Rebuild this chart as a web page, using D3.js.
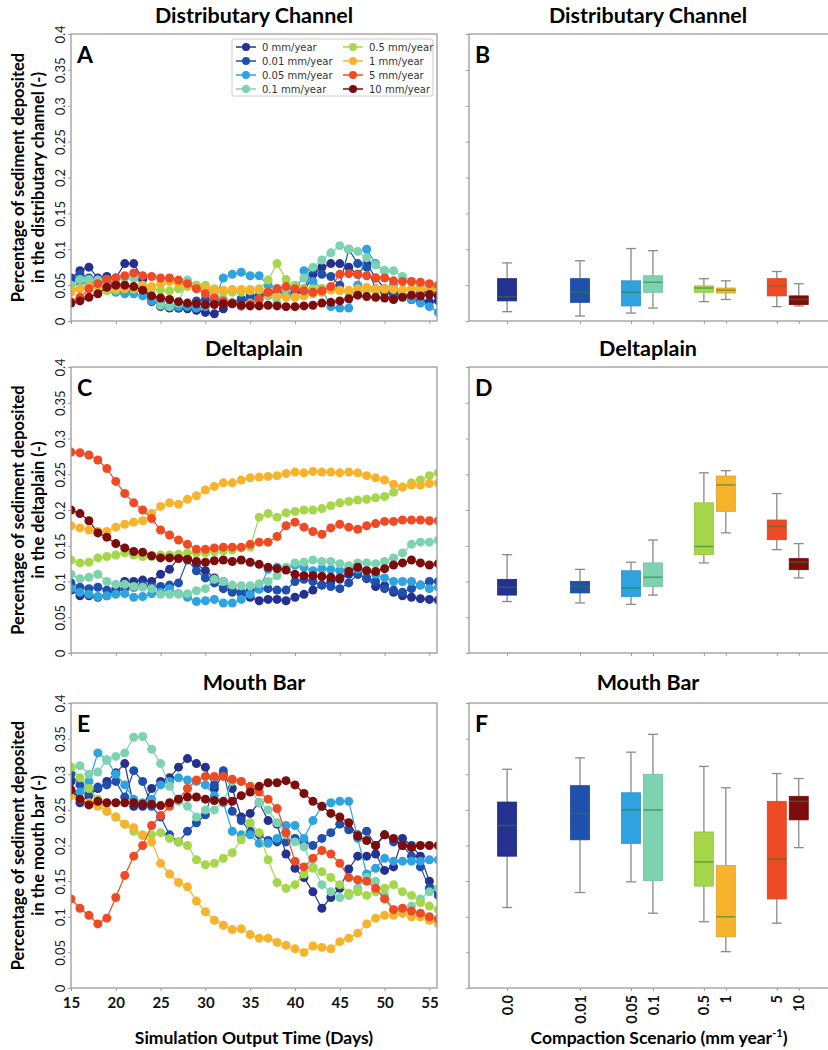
<!DOCTYPE html>
<html>
<head>
<meta charset="utf-8">
<script src="https://cdn.jsdelivr.net/npm/d3@7"></script>
<style>
  body { margin: 0; background: #fff; }
  svg { display: block; }
</style>
</head>
<body>
<div id="viz"></div>
<script>
/*#####################################################
#   Sediment deposition per compaction scenario       #
#   lines (left) and box plots (right)                #
#####################################################*/

// Globals / data
var days = [15,16,17,18,19,20,21,22,23,24,25,26,27,28,29,30,31,32,33,34,35,
            36,37,38,39,40,41,42,43,44,45,46,47,48,49,50,51,52,53,54,55,56];

var rates = [0, 0.01, 0.05, 0.1, 0.5, 1, 5, 10];
var rateLabels = ["0 mm/year","0.01 mm/year","0.05 mm/year","0.1 mm/year",
                  "0.5 mm/year","1 mm/year","5 mm/year","10 mm/year"];
var rateTicks = ["0.0","0.01","0.05","0.1","0.5","1","5","10"];
var colors = ["#25318f","#1f50ae","#2ea3e0","#7dd3b0","#a6d64a","#f8b32c","#ef4a24","#7d0c0c"];

var yTicks = [0, 0.05, 0.1, 0.15, 0.2, 0.25, 0.3, 0.35, 0.4];
var xTicks = [15, 20, 25, 30, 35, 40, 45, 50, 55];

var titles = ["Distributary Channel", "Deltaplain", "Mouth Bar"];
var yLabels2 = ["in the distributary channel (-)", "in the deltaplain (-)", "in the mouth bar (-)"];

// distributary channel, one row per rate
var channelValues = [
  [0.06,0.07,0.075,0.06,0.062,0.06,0.08,0.08,0.058,0.027,0.025,0.018,0.018,0.017,0.015,0.012,0.01,0.017,0.025,0.03,0.028,0.035,0.04,0.035,0.035,0.04,0.04,0.065,0.075,0.08,0.08,0.075,0.065,0.08,0.06,0.045,0.04,0.035,0.03,0.028,0.027,0.028],
  [0.058,0.065,0.06,0.058,0.055,0.052,0.04,0.042,0.045,0.03,0.02,0.02,0.018,0.022,0.028,0.03,0.028,0.025,0.025,0.03,0.035,0.035,0.04,0.04,0.045,0.045,0.045,0.072,0.065,0.062,0.05,0.1,0.08,0.075,0.045,0.04,0.035,0.035,0.03,0.04,0.045,0.035],
  [0.045,0.055,0.052,0.057,0.052,0.04,0.038,0.038,0.035,0.028,0.025,0.02,0.02,0.02,0.018,0.02,0.03,0.06,0.065,0.068,0.063,0.063,0.05,0.045,0.04,0.035,0.07,0.055,0.045,0.02,0.018,0.018,0.05,0.1,0.08,0.07,0.05,0.035,0.03,0.025,0.02,0.012],
  [0.05,0.058,0.058,0.057,0.058,0.057,0.06,0.06,0.05,0.035,0.022,0.02,0.025,0.057,0.05,0.045,0.04,0.03,0.025,0.02,0.025,0.03,0.035,0.025,0.045,0.05,0.06,0.075,0.085,0.095,0.105,0.1,0.097,0.088,0.078,0.07,0.07,0.062,0.055,0.05,0.045,0.04],
  [0.045,0.045,0.048,0.048,0.042,0.043,0.045,0.044,0.045,0.045,0.043,0.042,0.045,0.048,0.05,0.05,0.045,0.04,0.04,0.04,0.042,0.045,0.057,0.08,0.058,0.048,0.045,0.045,0.045,0.047,0.042,0.04,0.041,0.042,0.042,0.044,0.045,0.043,0.045,0.045,0.043,0.042],
  [0.04,0.045,0.048,0.05,0.048,0.046,0.045,0.047,0.05,0.048,0.052,0.055,0.052,0.05,0.046,0.045,0.043,0.043,0.044,0.044,0.044,0.043,0.038,0.035,0.033,0.033,0.035,0.038,0.04,0.043,0.043,0.043,0.045,0.047,0.045,0.045,0.044,0.043,0.044,0.044,0.045,0.045],
  [0.027,0.033,0.045,0.052,0.058,0.06,0.063,0.067,0.063,0.062,0.06,0.06,0.057,0.052,0.045,0.038,0.032,0.028,0.025,0.022,0.023,0.03,0.04,0.045,0.048,0.045,0.042,0.04,0.042,0.048,0.065,0.066,0.065,0.063,0.06,0.06,0.056,0.055,0.055,0.054,0.052,0.05],
  [0.025,0.028,0.033,0.038,0.047,0.05,0.05,0.048,0.043,0.035,0.032,0.03,0.027,0.025,0.024,0.023,0.023,0.024,0.024,0.022,0.021,0.021,0.022,0.021,0.02,0.02,0.021,0.022,0.025,0.026,0.028,0.031,0.036,0.034,0.033,0.032,0.03,0.033,0.036,0.035,0.037,0.036]
];

var deltaplainValues = [
  [0.088,0.08,0.08,0.078,0.08,0.09,0.1,0.1,0.102,0.1,0.11,0.117,0.133,0.132,0.125,0.115,0.105,0.1,0.088,0.083,0.078,0.073,0.075,0.075,0.073,0.078,0.082,0.088,0.095,0.1,0.103,0.11,0.11,0.104,0.093,0.094,0.085,0.08,0.078,0.076,0.075,0.074],
  [0.098,0.092,0.09,0.092,0.088,0.085,0.09,0.092,0.095,0.093,0.093,0.095,0.098,0.13,0.115,0.105,0.098,0.09,0.085,0.085,0.088,0.09,0.09,0.088,0.088,0.1,0.103,0.1,0.095,0.093,0.09,0.098,0.11,0.105,0.1,0.09,0.088,0.085,0.09,0.095,0.1,0.1],
  [0.09,0.085,0.082,0.079,0.08,0.082,0.083,0.078,0.079,0.083,0.085,0.09,0.083,0.078,0.072,0.073,0.075,0.07,0.07,0.075,0.082,0.089,0.117,0.12,0.118,0.123,0.12,0.115,0.118,0.117,0.115,0.118,0.117,0.115,0.11,0.105,0.1,0.1,0.1,0.095,0.09,0.092],
  [0.11,0.104,0.106,0.11,0.1,0.096,0.096,0.093,0.092,0.09,0.082,0.082,0.082,0.083,0.087,0.09,0.103,0.1,0.095,0.094,0.094,0.097,0.1,0.108,0.12,0.126,0.127,0.13,0.128,0.128,0.125,0.122,0.126,0.126,0.125,0.128,0.133,0.14,0.152,0.155,0.155,0.158],
  [0.13,0.126,0.127,0.133,0.135,0.137,0.14,0.137,0.135,0.135,0.137,0.137,0.138,0.14,0.14,0.14,0.142,0.143,0.144,0.147,0.148,0.19,0.195,0.19,0.196,0.198,0.2,0.2,0.202,0.206,0.21,0.212,0.214,0.215,0.217,0.219,0.225,0.232,0.238,0.242,0.248,0.252],
  [0.178,0.175,0.172,0.17,0.17,0.176,0.18,0.183,0.185,0.195,0.205,0.21,0.208,0.215,0.22,0.228,0.233,0.238,0.238,0.242,0.245,0.246,0.247,0.248,0.251,0.253,0.252,0.254,0.253,0.253,0.252,0.253,0.252,0.248,0.245,0.242,0.236,0.232,0.235,0.235,0.237,0.238],
  [0.281,0.28,0.277,0.27,0.258,0.24,0.223,0.21,0.2,0.188,0.172,0.165,0.158,0.152,0.145,0.145,0.147,0.148,0.148,0.148,0.152,0.155,0.155,0.163,0.178,0.183,0.176,0.17,0.166,0.175,0.18,0.176,0.173,0.178,0.181,0.184,0.184,0.186,0.186,0.186,0.185,0.185],
  [0.2,0.195,0.185,0.168,0.162,0.153,0.147,0.142,0.141,0.136,0.133,0.133,0.132,0.131,0.128,0.127,0.129,0.13,0.128,0.13,0.127,0.124,0.12,0.118,0.116,0.11,0.108,0.108,0.107,0.106,0.105,0.114,0.12,0.115,0.114,0.118,0.123,0.126,0.13,0.126,0.123,0.125]
];

var mouthbarValues = [
  [0.29,0.26,0.27,0.28,0.29,0.302,0.315,0.255,0.255,0.28,0.29,0.295,0.31,0.322,0.315,0.31,0.28,0.3,0.28,0.24,0.245,0.26,0.235,0.23,0.188,0.168,0.155,0.135,0.112,0.127,0.14,0.167,0.185,0.185,0.188,0.165,0.17,0.21,0.2,0.185,0.15,0.135],
  [0.3,0.285,0.273,0.282,0.285,0.29,0.268,0.305,0.29,0.255,0.24,0.215,0.205,0.22,0.232,0.243,0.285,0.305,0.248,0.235,0.22,0.215,0.207,0.205,0.205,0.21,0.205,0.2,0.21,0.218,0.23,0.222,0.215,0.22,0.2,0.215,0.205,0.2,0.185,0.17,0.14,0.13],
  [0.27,0.275,0.29,0.33,0.32,0.3,0.285,0.265,0.26,0.265,0.285,0.29,0.295,0.292,0.29,0.285,0.27,0.26,0.22,0.215,0.215,0.203,0.203,0.21,0.228,0.228,0.21,0.235,0.255,0.26,0.262,0.262,0.21,0.16,0.168,0.182,0.178,0.178,0.178,0.178,0.18,0.18],
  [0.31,0.312,0.3,0.303,0.32,0.325,0.33,0.352,0.353,0.335,0.315,0.283,0.262,0.255,0.24,0.25,0.25,0.262,0.29,0.29,0.28,0.26,0.25,0.232,0.215,0.205,0.198,0.17,0.145,0.135,0.127,0.13,0.14,0.155,0.15,0.13,0.11,0.105,0.115,0.125,0.135,0.14],
  [0.31,0.295,0.28,0.265,0.248,0.24,0.23,0.22,0.215,0.215,0.218,0.21,0.205,0.2,0.18,0.173,0.175,0.182,0.19,0.208,0.232,0.218,0.18,0.148,0.14,0.145,0.16,0.168,0.163,0.155,0.145,0.133,0.135,0.13,0.135,0.14,0.145,0.135,0.13,0.12,0.115,0.11],
  [0.27,0.265,0.26,0.255,0.248,0.24,0.23,0.225,0.214,0.205,0.175,0.16,0.148,0.142,0.122,0.107,0.095,0.088,0.082,0.083,0.075,0.07,0.07,0.064,0.06,0.055,0.05,0.059,0.057,0.055,0.065,0.07,0.077,0.09,0.098,0.102,0.102,0.105,0.1,0.1,0.095,0.09],
  [0.125,0.112,0.102,0.09,0.098,0.127,0.158,0.185,0.2,0.228,0.242,0.255,0.265,0.28,0.292,0.297,0.297,0.297,0.293,0.29,0.283,0.275,0.265,0.252,0.218,0.178,0.17,0.182,0.193,0.188,0.175,0.155,0.152,0.15,0.14,0.125,0.11,0.112,0.108,0.105,0.1,0.097],
  [0.278,0.265,0.257,0.262,0.26,0.26,0.26,0.26,0.258,0.258,0.256,0.26,0.265,0.268,0.268,0.265,0.263,0.262,0.262,0.27,0.275,0.283,0.288,0.288,0.291,0.285,0.273,0.262,0.255,0.245,0.24,0.232,0.213,0.207,0.2,0.215,0.21,0.2,0.197,0.2,0.2,0.2]
];

// box stats per rate: [min, q1, median, q3, max]
var channelBoxes = [
  [0.013,0.028,0.034,0.059,0.081],
  [0.007,0.026,0.040,0.059,0.084],
  [0.011,0.021,0.040,0.056,0.101],
  [0.018,0.040,0.054,0.063,0.098],
  [0.027,0.040,0.046,0.049,0.059],
  [0.030,0.039,0.043,0.046,0.056],
  [0.020,0.035,0.049,0.059,0.069],
  [0.021,0.023,0.030,0.035,0.052]
];
var deltaplainBoxes = [
  [0.072,0.081,0.092,0.103,0.1375],
  [0.070,0.084,0.093,0.100,0.117],
  [0.068,0.079,0.091,0.115,0.127],
  [0.081,0.093,0.106,0.126,0.158],
  [0.126,0.1375,0.149,0.210,0.252],
  [0.168,0.198,0.235,0.2475,0.255],
  [0.1445,0.1585,0.177,0.186,0.223],
  [0.105,0.1165,0.127,0.132,0.153]
];
var mouthbarBoxes = [
  [0.113,0.185,0.228,0.261,0.307],
  [0.134,0.208,0.245,0.284,0.323],
  [0.149,0.203,0.250,0.274,0.331],
  [0.105,0.151,0.250,0.300,0.356],
  [0.093,0.143,0.177,0.219,0.311],
  [0.051,0.072,0.100,0.172,0.281],
  [0.091,0.125,0.181,0.262,0.301],
  [0.197,0.236,0.262,0.269,0.294]
];

/*################
#     Layout     #
##################*/

const width = 828, height = 1050;
const leftX = [71, 437], rightX = [469, 829];
const rows = [ {top: 34, bottom: 321}, {top: 367, bottom: 653}, {top: 703, bottom: 988} ];
const titleY = [23, 356, 690];
const letters = [["A","B"],["C","D"],["E","F"]];

const lineData = [channelValues, deltaplainValues, mouthbarValues];
const boxData = [channelBoxes, deltaplainBoxes, mouthbarBoxes];

const sansBold = "Lato, 'Open Sans', sans-serif";
const axisGrey = "#9c9c9c";

var svg = d3.select("#viz").append("svg")
    .attr("width", width)
    .attr("height", height);

// shared x scales
var x = d3.scaleLinear().domain([15, 55.85]).range(leftX);
// box positions sit on a log axis, "0" is parked one decade below 0.01
var xb = d3.scaleLog().domain([0.0003, 25.2]).range([rightX[0], 828]);
function boxPos(r) { return xb(r === 0 ? 0.001 : r); }

rows.forEach(function(row, ri) {

    var y = d3.scaleLinear().domain([0, 0.4]).range([row.bottom, row.top]);

    // titles over each column
    svg.append("text")
        .attr("x", (leftX[0] + leftX[1]) / 2)
        .attr("y", titleY[ri])
        .attr("text-anchor", "middle")
        .attr("font-family", sansBold)
        .attr("font-weight", "bold")
        .attr("font-size", "21.5px")
        .text(titles[ri]);
    svg.append("text")
        .attr("x", 648)
        .attr("y", titleY[ri])
        .attr("text-anchor", "middle")
        .attr("font-family", sansBold)
        .attr("font-weight", "bold")
        .attr("font-size", "21.5px")
        .text(titles[ri]);

    // y label, two lines rotated
    var midY = (row.top + row.bottom) / 2;
    svg.append("text")
        .attr("transform", "translate(24," + midY + ") rotate(-90)")
        .attr("text-anchor", "middle")
        .attr("font-family", sansBold)
        .attr("font-weight", "bold")
        .attr("font-size", "16.5px")
        .text("Percentage of sediment deposited");
    svg.append("text")
        .attr("transform", "translate(44," + midY + ") rotate(-90)")
        .attr("text-anchor", "middle")
        .attr("font-family", sansBold)
        .attr("font-weight", "bold")
        .attr("font-size", "16.5px")
        .text(yLabels2[ri]);

    /*
        Left panel: lines with markers
    */
    var clipId = "clip" + ri;
    svg.append("clipPath").attr("id", clipId)
        .append("rect")
        .attr("x", leftX[0]).attr("y", row.top)
        .attr("width", leftX[1] - leftX[0]).attr("height", row.bottom - row.top);

    // y axis with rotated labels
    var yAxisL = svg.append("g")
        .attr("transform", "translate(" + leftX[0] + ",0)")
        .call(d3.axisLeft(y).tickValues(yTicks).tickSize(3).tickFormat(d3.format("~g")));
    yAxisL.select(".domain").remove();
    yAxisL.selectAll("line").attr("stroke", axisGrey);
    yAxisL.selectAll("text")
        .attr("x", null).attr("dy", null)
        .attr("text-anchor", "middle")
        .attr("transform", "translate(-6,0) rotate(-90)")
        .attr("font-family", sansBold)
        .attr("font-size", "13px")
        .attr("fill", "#1a1a1a");

    var xAxisL = svg.append("g")
        .attr("transform", "translate(0," + row.bottom + ")")
        .call(d3.axisBottom(x).tickValues(xTicks).tickSize(3));
    xAxisL.select(".domain").remove();
    xAxisL.selectAll("line").attr("stroke", axisGrey);
    if (ri === 2) {
        xAxisL.selectAll("text")
            .attr("y", 9)
            .attr("font-family", sansBold)
            .attr("font-weight", "bold")
            .attr("font-size", "15px")
            .attr("fill", "#111");
    } else {
        xAxisL.selectAll("text").remove();
    }

    var plotL = svg.append("g").attr("clip-path", "url(#" + clipId + ")");
    var line = d3.line()
        .x(function(d, i) { return x(days[i]); })
        .y(function(d) { return y(d); });

    lineData[ri].forEach(function(series, si) {
        var g = plotL.append("g");
        g.append("path")
            .datum(series)
            .attr("fill", "none")
            .attr("stroke", colors[si])
            .attr("stroke-width", 1.2)
            .attr("d", line);
        g.selectAll("circle")
            .data(series)
            .enter()
            .append("circle")
            .attr("cx", function(d, i) { return x(days[i]); })
            .attr("cy", function(d) { return y(d); })
            .attr("r", 4.5)
            .attr("fill", colors[si]);
    });

    svg.append("rect")
        .attr("x", leftX[0]).attr("y", row.top)
        .attr("width", leftX[1] - leftX[0]).attr("height", row.bottom - row.top)
        .attr("fill", "none")
        .attr("stroke", axisGrey)
        .attr("stroke-width", 1.3);

    svg.append("text")
        .attr("x", leftX[0] + 6)
        .attr("y", row.top + 29)
        .attr("font-family", sansBold)
        .attr("font-weight", "bold")
        .attr("font-size", "23px")
        .text(letters[ri][0]);

    /*
        Right panel: box plots
    */
    var yAxisR = svg.append("g")
        .attr("transform", "translate(" + rightX[0] + ",0)")
        .call(d3.axisLeft(y).tickValues(yTicks).tickSize(3).tickFormat(""));
    yAxisR.select(".domain").remove();
    yAxisR.selectAll("line").attr("stroke", axisGrey);

    var xAxisR = svg.append("g")
        .attr("transform", "translate(0," + row.bottom + ")")
        .call(d3.axisBottom(xb).tickValues(rates.map(function(r) { return r === 0 ? 0.001 : r; })).tickSize(3));
    xAxisR.select(".domain").remove();
    xAxisR.selectAll("line").attr("stroke", axisGrey);
    if (ri === 2) {
        xAxisR.selectAll("text")
            .text(function(d, i) { return rateTicks[i]; })
            .attr("y", null).attr("dy", "0.35em")
            .attr("text-anchor", "end")
            .attr("transform", "translate(0,7) rotate(-90)")
            .attr("font-family", sansBold)
            .attr("font-weight", "bold")
            .attr("font-size", "14.5px")
            .attr("fill", "#111");
    } else {
        xAxisR.selectAll("text").remove();
    }

    var boxW = 19, capW = 10;
    var boxes = svg.append("g").selectAll("g")
        .data(boxData[ri])
        .enter()
        .append("g")
        .attr("transform", function(d, i) { return "translate(" + boxPos(rates[i]) + ",0)"; });

    boxes.append("line")
        .attr("y1", function(d) { return y(d[0]); })
        .attr("y2", function(d) { return y(d[1]); })
        .attr("stroke", "#8a8a8a").attr("stroke-width", 1.3);
    boxes.append("line")
        .attr("y1", function(d) { return y(d[3]); })
        .attr("y2", function(d) { return y(d[4]); })
        .attr("stroke", "#8a8a8a").attr("stroke-width", 1.3);
    boxes.append("line")
        .attr("x1", -capW / 2).attr("x2", capW / 2)
        .attr("y1", function(d) { return y(d[0]); })
        .attr("y2", function(d) { return y(d[0]); })
        .attr("stroke", "#8a8a8a").attr("stroke-width", 1.3);
    boxes.append("line")
        .attr("x1", -capW / 2).attr("x2", capW / 2)
        .attr("y1", function(d) { return y(d[4]); })
        .attr("y2", function(d) { return y(d[4]); })
        .attr("stroke", "#8a8a8a").attr("stroke-width", 1.3);
    boxes.append("rect")
        .attr("x", -boxW / 2)
        .attr("width", boxW)
        .attr("y", function(d) { return y(d[3]); })
        .attr("height", function(d) { return y(d[1]) - y(d[3]); })
        .attr("fill", function(d, i) { return colors[i]; })
        .attr("stroke", function(d, i) { return d3.color(colors[i]).darker(0.3); })
        .attr("stroke-width", 0.8);
    boxes.append("line")
        .attr("x1", -boxW / 2).attr("x2", boxW / 2)
        .attr("y1", function(d) { return y(d[2]); })
        .attr("y2", function(d) { return y(d[2]); })
        .attr("stroke", "#2e7d32")
        .attr("stroke-opacity", 0.6)
        .attr("stroke-width", 1.5);

    svg.append("rect")
        .attr("x", rightX[0]).attr("y", row.top)
        .attr("width", rightX[1] - rightX[0]).attr("height", row.bottom - row.top)
        .attr("fill", "none")
        .attr("stroke", axisGrey)
        .attr("stroke-width", 1.3);

    svg.append("text")
        .attr("x", rightX[0] + 6)
        .attr("y", row.top + 29)
        .attr("font-family", sansBold)
        .attr("font-weight", "bold")
        .attr("font-size", "23px")
        .text(letters[ri][1]);
});

/*
    Legend inside panel A
*/
var legend = svg.append("g").attr("transform", "translate(232,39)");
legend.append("rect")
    .attr("width", 201).attr("height", 57)
    .attr("rx", 2)
    .attr("fill", "#fff")
    .attr("fill-opacity", 0.85)
    .attr("stroke", "#cccccc");

var items = legend.selectAll("g.item")
    .data(rateLabels)
    .enter()
    .append("g")
    .attr("class", "item")
    .attr("transform", function(d, i) {
        return "translate(" + (i < 4 ? 4 : 111) + "," + (8 + (i % 4) * 14) + ")";
    });
items.append("line")
    .attr("x1", 0).attr("x2", 20)
    .attr("stroke", function(d, i) { return colors[i]; })
    .attr("stroke-width", 1.5);
items.append("circle")
    .attr("cx", 10).attr("r", 4)
    .attr("fill", function(d, i) { return colors[i]; });
items.append("text")
    .attr("x", 26)
    .attr("dy", "0.35em")
    .attr("font-family", "'DejaVu Sans', sans-serif")
    .attr("font-size", "10px")
    .attr("fill", "#333")
    .text(function(d) { return d; });

/*
    Bottom axis titles
*/
svg.append("text")
    .attr("x", (leftX[0] + leftX[1]) / 2)
    .attr("y", 1044)
    .attr("text-anchor", "middle")
    .attr("font-family", sansBold)
    .attr("font-weight", "bold")
    .attr("font-size", "17.5px")
    .text("Simulation Output Time (Days)");

var xlab = svg.append("text")
    .attr("x", 659)
    .attr("y", 1044)
    .attr("text-anchor", "middle")
    .attr("font-family", sansBold)
    .attr("font-weight", "bold")
    .attr("font-size", "17.5px");
xlab.append("tspan").text("Compaction Scenario (mm year");
xlab.append("tspan").attr("font-size", "11px").attr("dy", "-7").text("-1");
xlab.append("tspan").attr("dy", "7").text(")");
</script>
</body>
</html>
